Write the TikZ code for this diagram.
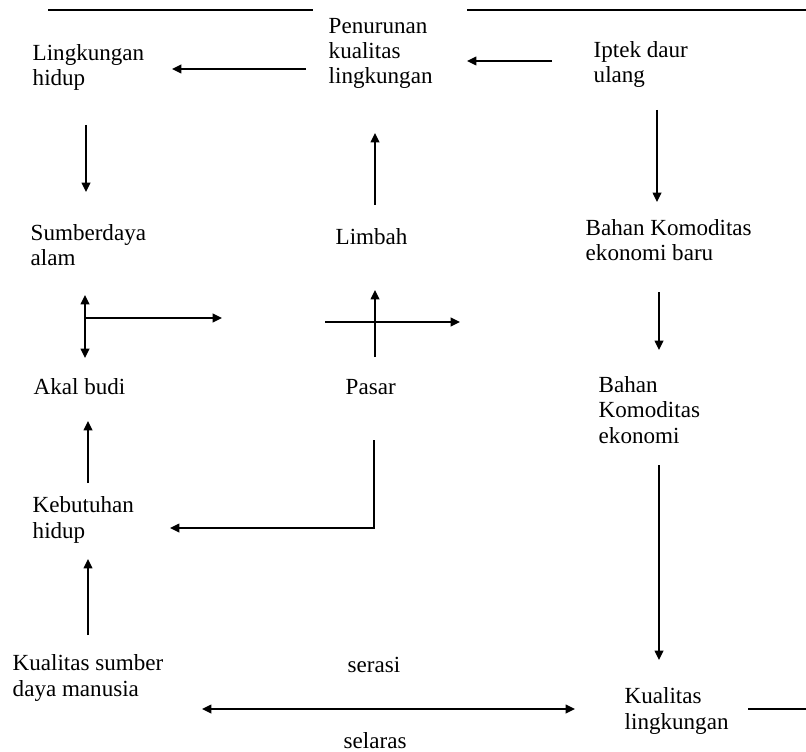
\documentclass[tikz,border=0pt]{standalone}
\usepackage{fontspec}
\setmainfont{Liberation Serif}
\usetikzlibrary{arrows.meta}

\begin{document}
\begin{tikzpicture}[x=0.75pt,y=-0.75pt,>={Triangle[length=7pt,width=6.5pt]},line width=1.1pt]
\tikzstyle{every node}=[font=\fontsize{17.3}{18.8}\selectfont,align=left,inner sep=0pt,anchor=base west]
\tikzstyle{rule}=[line width=1.5pt]
\useasboundingbox (0,0) rectangle (806,752);

% base = last line
\node(penurunan) at (328,84) {Penurunan\\kualitas\\lingkungan};
\node(lingk) at (32,86) {Lingkungan\\hidup};
\node(iptek) at (593,83) {Iptek daur\\ulang};
\node(sda) at (30,266) {Sumberdaya\\alam};
\node(limbah) at (335,244) {Limbah};
\node(bkbaru) at (585,261) {Bahan Komoditas\\ekonomi baru};
\node(akal) at (33,394) {Akal budi};
\node(pasar) at (345,394) {Pasar};
\node(bk) at (598,443) {Bahan\\Komoditas\\ekonomi};
\node(kebutuhan) at (32,538) {Kebutuhan\\hidup};
\node(ksdm) at (12,696) {Kualitas sumber\\daya manusia};
\node(serasi) at (347,672) {serasi};
\node(kling) at (624,729) {Kualitas\\lingkungan};
\node(selaras) at (343,748) {selaras};

% arrow ends
\coordinate (penurunan-w) at (306,69);   \coordinate (lingk-e) at (172,69);
\coordinate (iptek-w) at (552,61);       \coordinate (penurunan-e) at (467,61);
\coordinate (lingk-s) at (86,125);       \coordinate (sda-n) at (86,192);
\coordinate (iptek-s) at (657,110);      \coordinate (bkbaru-n) at (657,202);
\coordinate (limbah-n) at (375,205);     \coordinate (penurunan-s) at (375,133);
\coordinate (sda-s) at (85,295);         \coordinate (akal-n) at (85,358);
\coordinate (sda-e) at (85,318);         \coordinate (sda-to) at (222,318);
\coordinate (pasar-w) at (325,322);      \coordinate (pasar-to) at (460,322);
\coordinate (pasar-n) at (375,357);      \coordinate (limbah-s) at (375,290);
\coordinate (bkbaru-s) at (659,292);     \coordinate (bk-n) at (659,350);
\coordinate (kebutuhan-n) at (88,483);   \coordinate (akal-s) at (88,421);
\coordinate (pasar-s) at (374,440);      \coordinate (kebutuhan-e) at (170,528);
\coordinate (bk-s) at (659,465);         \coordinate (kling-n) at (659,660);
\coordinate (ksdm-n) at (88,635);        \coordinate (kebutuhan-s) at (88,559);
\coordinate (ksdm-e) at (202,709);       \coordinate (kling-w) at (575,709);
\coordinate (kling-e) at (748,709);      \coordinate (kling-to) at (806,709);

\draw[rule] (48,10) -- (313,10);
\draw[rule] (467,10) -- (806,10);

\path (penurunan-w) edge[->] (lingk-e)
      (iptek-w) edge[->] (penurunan-e)
      (lingk-s) edge[->] (sda-n)
      (iptek-s) edge[->] (bkbaru-n)
      (limbah-n) edge[->] (penurunan-s);

\draw[<->] (sda-s) -- (akal-n);
\draw[->] (sda-e) -- (sda-to);
\draw[->] (pasar-w) -- (pasar-to);
\draw[->] (pasar-n) -- (limbah-s);
\draw[->] (bkbaru-s) -- (bk-n);
\draw[->] (kebutuhan-n) -- (akal-s);
\draw[->] (pasar-s) |- (kebutuhan-e); % pasar ke kebutuhan
\draw[->] (bk-s) -- (kling-n);
\draw[->] (ksdm-n) -- (kebutuhan-s);
\draw[<->] (ksdm-e) -- (kling-w);
\draw (kling-e) -- (kling-to);

\end{tikzpicture}
\end{document}
